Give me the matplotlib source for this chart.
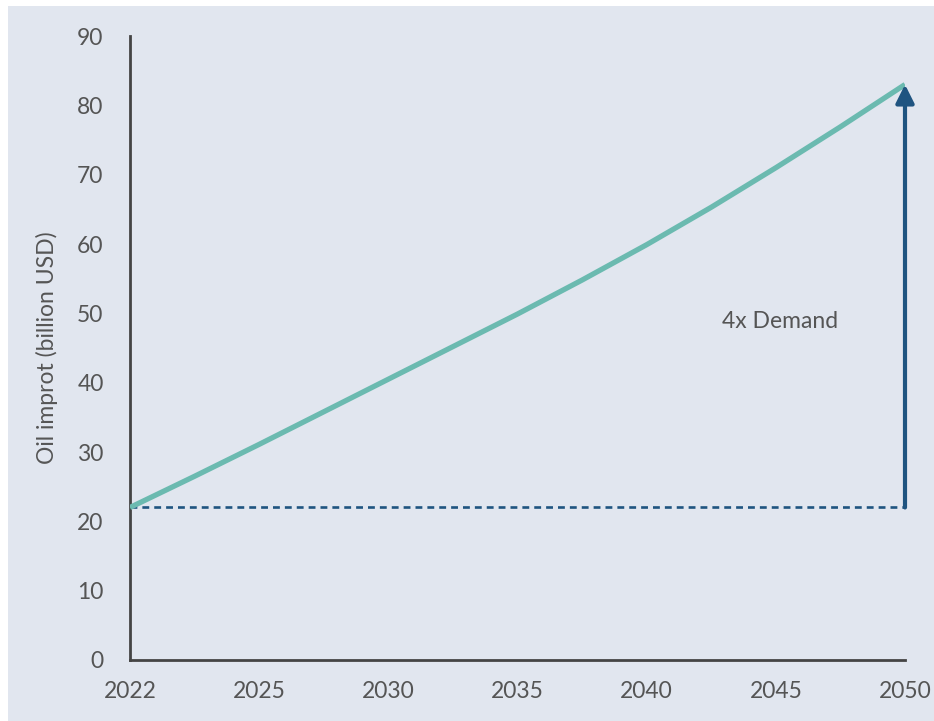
import matplotlib.pyplot as plt
from matplotlib.patches import Rectangle

# tick labels sit at evenly spaced positions 0..6
year_labels = ['2022', '2025', '2030', '2035', '2040', '2045', '2050']
positions = [0, 0.5, 1, 1.5, 2, 2.5, 3, 3.5, 4, 4.5, 5, 5.5, 6]
oil_import = [22.0, 26.5, 31.1, 35.8, 40.5, 45.2, 49.9, 54.8, 59.9, 65.3, 71.0, 76.9, 83.0]
yticks = [0, 10, 20, 30, 40, 50, 60, 70, 80, 90]
base_value = 22
end_value = 83

bg = '#e1e6ef'
text_color = '#555555'
navy = '#1f5480'


def main():
    plt.rcParams['font.family'] = ['Lato', 'DejaVu Sans']
    fig = plt.figure(figsize=(9.34, 7.21), dpi=100, facecolor='white')
    fig.patches.append(Rectangle((8 / 934, 0), 1, 1 - 6 / 721,
                                 transform=fig.transFigure, facecolor=bg,
                                 edgecolor='none', zorder=-10))
    ax = fig.add_axes([130 / 934, 1 - 660 / 721, 775 / 934, 624 / 721])
    ax.patch.set_alpha(0)

    ax.plot(positions, oil_import, color='#6bbab0', lw=3.8,
            solid_capstyle='butt', solid_joinstyle='round', zorder=3)
    ax.plot([positions[0], positions[-1]], [base_value, base_value], color=navy,
            lw=1.9, ls=(0, (2.6, 1.9)), zorder=2)
    ax.annotate('', xy=(positions[-1], end_value), xytext=(positions[-1], base_value),
                arrowprops=dict(arrowstyle='-|>,head_length=1.1,head_width=0.55',
                                color=navy, lw=3, shrinkA=0, shrinkB=0),
                zorder=4)
    ax.text(5.03, 48.8, '4x Demand', ha='center', va='center',
            fontsize=16.5, color=text_color)

    ax.set_xlim(0, 6)
    ax.set_ylim(0, 90)
    ax.set_xticks(range(len(year_labels)))
    ax.set_xticklabels(year_labels)
    ax.set_yticks(yticks)
    ax.tick_params(length=0, labelsize=16.5, colors=text_color)
    ax.tick_params(axis='x', pad=15)
    ax.tick_params(axis='y', pad=19)
    ax.set_ylabel('Oil improt (billion USD)', fontsize=16.5, color=text_color, labelpad=14)

    for side in ['top', 'right']:
        ax.spines[side].set_visible(False)
    for side in ['left', 'bottom']:
        ax.spines[side].set_color('#444444')
        ax.spines[side].set_linewidth(2)

    fig.savefig('out.png', dpi=100, facecolor='white')


if __name__ == '__main__':
    main()
